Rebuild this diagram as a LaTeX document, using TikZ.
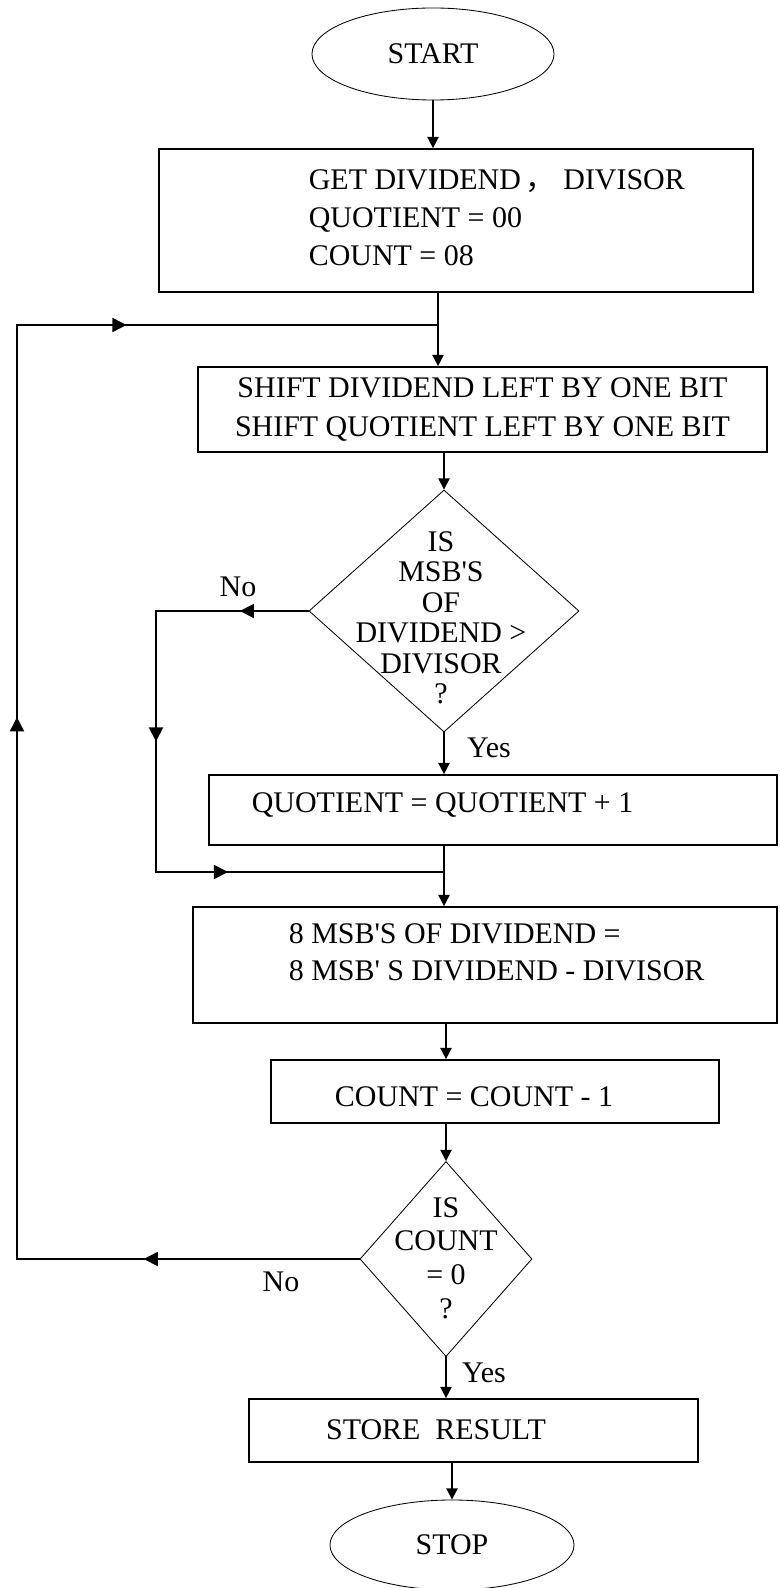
\documentclass[tikz,border=0pt]{standalone}
\usepackage{fontspec}
\setmainfont{Liberation Serif}[Ligatures=TeXOff]
\newfontfamily\cjk{Noto Sans CJK SC}
\usetikzlibrary{shapes.geometric,arrows.meta,decorations.markings}

\begin{document}
\begin{tikzpicture}[x=0.025cm, y=-0.025cm, line width=1.2pt, line cap=rect,
        >={Triangle[length=8pt, width=8pt]}]
    \tikzset{
        box/.style={draw, rectangle, inner sep=0pt},
        cond/.style={draw, diamond, inner sep=0pt, line width=0.6pt},
        term/.style={draw, ellipse, inner sep=0pt, line width=0.6pt},
        txt/.style={inner sep=0pt, font=\fontsize{21.3}{27}\selectfont},
        midarrow/.style={postaction={decorate}, decoration={markings,
            mark=at position #1 with {\arrow{Triangle[length=10pt, width=10pt]}}}}
    }
    \useasboundingbox (0,0) rectangle (779,1588);

    % shapes
    \node[term, txt, minimum width=6.05cm, minimum height=2.3cm] (start) at (433,54) {START};
    \node[box, minimum width=14.85cm, minimum height=3.575cm] (get) at (456,220.5) {};
    \node[box, txt, align=center, minimum width=14.225cm, minimum height=2.125cm,
        font=\fontsize{21.3}{28.4}\selectfont] (shift) at (482.5,409.5)
        {SHIFT DIVIDEND LEFT BY ONE BIT\\SHIFT QUOTIENT LEFT BY ONE BIT};
    \node[cond, minimum width=6.75cm, minimum height=6.05cm] (msb) at (444,611) {};
    \node[box, minimum width=14.2cm, minimum height=1.75cm] (quot) at (493,810) {};
    \node[box, minimum width=14.6cm, minimum height=2.9cm] (sub) at (485,965) {};
    \node[box, minimum width=11.2cm, minimum height=1.575cm] (dec) at (495,1091.5) {};
    \node[cond, minimum width=4.3cm, minimum height=4.875cm] (cnt) at (446,1259) {};
    \node[box, minimum width=11.225cm, minimum height=1.575cm] (store) at (473.5,1430.5) {};
    \node[term, txt, minimum width=6.1cm, minimum height=2.25cm] (stop) at (452,1545) {STOP};

    % texts
    \node[txt, anchor=west, align=left] (getT) at (308,218)
        {GET DIVIDEND\,{\cjk ，} DIVISOR\\QUOTIENT = 00\\COUNT = 08};
    \node[txt, align=center, font=\fontsize{21.3}{21.7}\selectfont] (msbT) at (441,618)
        {IS\\MSB'S\\OF\\DIVIDEND >\\DIVISOR\\?};
    \node[txt, anchor=west] (quotT) at (251,805) {QUOTIENT = QUOTIENT + 1};
    \node[txt, anchor=west, align=left, font=\fontsize{21.3}{26.3}\selectfont] (subT) at (288,952.5)
        {8 MSB'S OF DIVIDEND =\\8 MSB' S DIVIDEND - DIVISOR};
    \node[txt] (decT) at (474,1097) {COUNT = COUNT - 1};
    \node[txt, align=center, font=\fontsize{21.3}{24}\selectfont] (cntT) at (446,1258)
        {IS\\COUNT\\= 0\\?};
    \node[txt] (storeT) at (436,1430) {STORE\ \ RESULT};
    \node[txt] (no1) at (238,587) {No};
    \node[txt] (yes1) at (489,748) {Yes};
    \node[txt] (no2) at (281,1282) {No};
    \node[txt] (yes2) at (484,1373) {Yes};

    % points of the two loops
    \coordinate (top) at (438,325);
    \coordinate (loop) at (17,325);
    \coordinate (join) at (444,872);
    \coordinate (side) at (156,872);

    % main line
    \draw[->] (start.south) -- (start.south |- get.north);
    \draw (top |- get.south) -- (top);
    \draw[->] (top) -- (top |- shift.north);
    \draw[->] (msb.north |- shift.south) -- (msb.north);
    \draw[->] (msb.south) -- (msb.south |- quot.north);
    \draw (msb |- quot.south) -- (join);
    \draw[->] (join) -- (join |- sub.north);
    \draw[->] (cnt |- sub.south) -- (cnt |- dec.north);
    \draw[->] (cnt |- dec.south) -- (cnt.north);
    \draw[->] (cnt.south) -- (cnt.south |- store.north);
    \draw[->] (stop.north |- store.south) -- (stop.north);

    % No branch round the quotient box
    \draw[midarrow=0.45] (msb.west) -- (side |- msb.west);
    \draw[midarrow=0.5] (side |- msb.west) -- (side);
    \draw[midarrow=0.25] (side) -- (join);

    % back to the shift box
    \draw[midarrow=0.63] (cnt.west) -- (loop |- cnt.west);
    \draw[midarrow=0.58] (loop |- cnt.west) -- (loop);
    \draw[midarrow=0.26] (loop) -- (top);
\end{tikzpicture}
\end{document}
